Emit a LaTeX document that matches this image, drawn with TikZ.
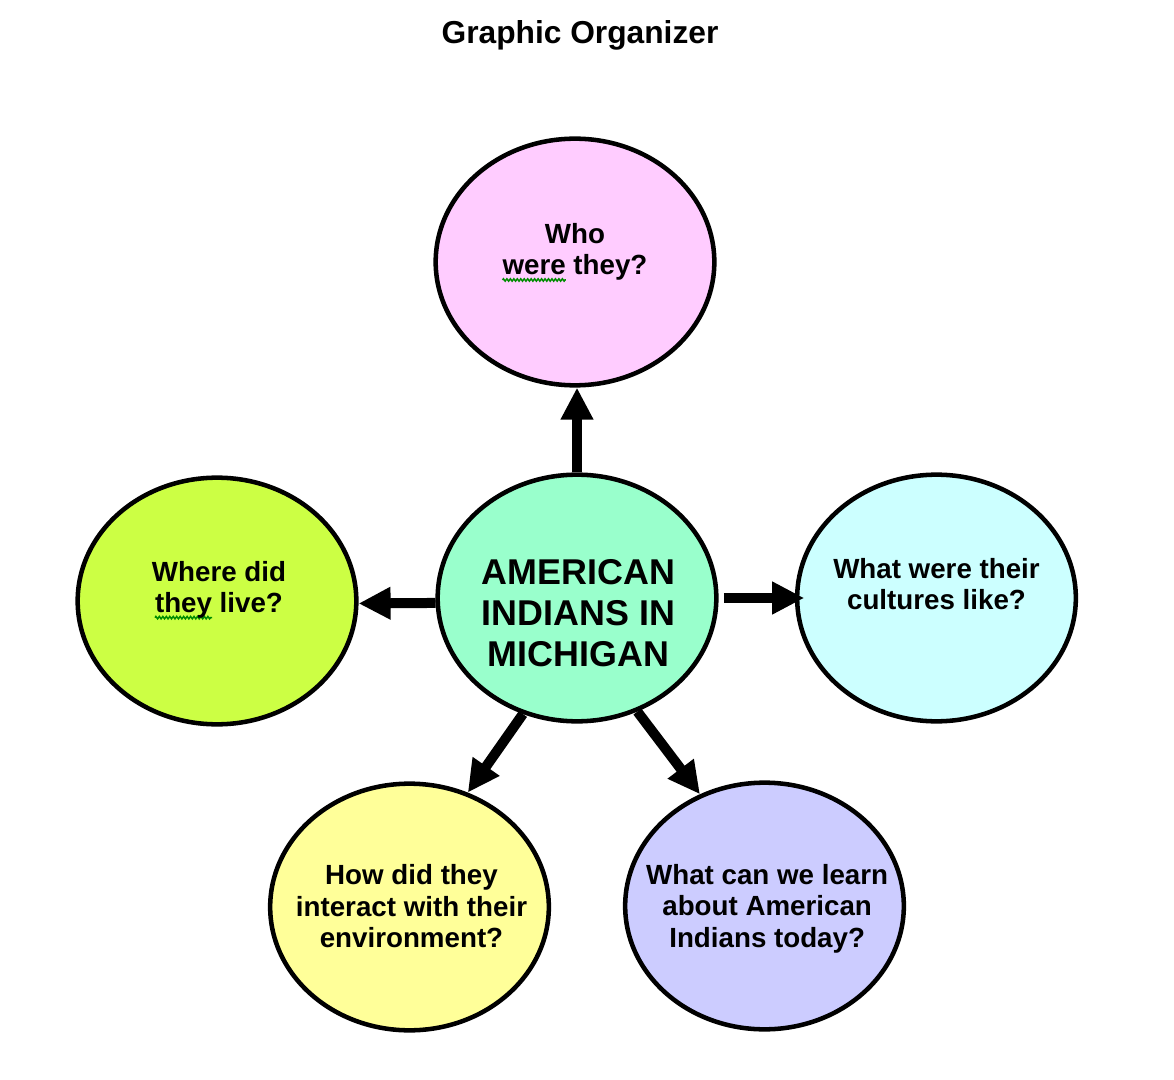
\documentclass[tikz,border=0pt]{standalone}
\definecolor{bubblepink}{RGB}{255,204,255}
\definecolor{bubblemint}{RGB}{153,255,204}
\definecolor{bubblelime}{RGB}{204,255,68}
\definecolor{bubblecyan}{RGB}{204,255,255}
\definecolor{bubbleyellow}{RGB}{255,255,153}
\definecolor{bubblelilac}{RGB}{204,204,255}
\definecolor{squiggreen}{RGB}{0,140,0}
\usepackage{fontspec}
\setmainfont{Liberation Sans}
\usepackage{tikz}
\usetikzlibrary{arrows.meta,shapes.geometric,decorations.pathmorphing}

\newlength{\spellwd}
\newcommand{\spellmark}[1]{\settowidth{\spellwd}{#1}\rlap{\tikz[overlay,baseline=0pt]
  \draw[squiggreen, line width=1.1pt, decorate, decoration={zigzag, amplitude=0.9pt, segment length=2.6pt}]
  (0pt,-3.8pt) -- (\spellwd,-3.8pt);}#1}

\tikzset{
  bubble/.style={ellipse, draw=black, line width=3.4pt, minimum width=209pt,
                 minimum height=185pt, inner sep=0pt},
  asktext/.style={align=center, inner sep=0pt, font=\fontsize{20.8}{23.6}\selectfont\bfseries},
  hubtext/.style={align=center, inner sep=0pt, font=\fontsize{26.9}{30.8}\selectfont\bfseries},
  link/.style={line width=7.5pt, -{Triangle[length=24pt,width=23pt]}},
}

\begin{document}
\begin{tikzpicture}[x=0.75pt,y=-0.75pt]
    \useasboundingbox (0,0) rectangle (1174,1080);
    \node[font=\fontsize{23.8}{28}\selectfont\bfseries] (title) at (580,35) {Graphic Organizer};

    % hub and the five questions round it
    \node[bubble, fill=bubblemint,
          label={[hubtext, xshift=1pt, yshift=-11.5pt]center:{AMERICAN\\INDIANS IN\\MICHIGAN}}] (hub) at (577,598) {};
    \node[bubble, fill=bubblepink,
          label={[asktext, yshift=7.5pt]center:{Who\\\spellmark{were} they?}}] (who) at (575,262) {};
    \node[bubble, fill=bubblelime,
          label={[asktext, xshift=1.5pt, yshift=8.5pt]center:{Where did\\\spellmark{they} live?}}] (where) at (217,601) {};
    \node[bubble, fill=bubblecyan,
          label={[asktext, yshift=10.5pt]center:{What were their\\cultures like?}}] (culture) at (936.5,598) {};
    \node[bubble, fill=bubbleyellow,
          label={[asktext, xshift=1.5pt, yshift=0.5pt]center:{How did they\\interact with their\\environment?}}] (environment) at (409.5,907) {};
    \node[bubble, fill=bubblelilac,
          label={[asktext, xshift=2pt, yshift=-2pt]center:{What can we learn\\about American\\Indians today?}}] (today) at (764.5,906) {};

    \draw[link] (hub.north) -- (hub.north |- who.south);
    \draw[link] (hub.182) -- (where.359);
    \draw[link, shorten <=4pt, shorten >=-7pt] (hub.0) -- (culture.180);
    \draw[link] (hub.245) -- (environment.63);
    \draw[link] (hub.298) -- (today.120);
\end{tikzpicture}
\end{document}
